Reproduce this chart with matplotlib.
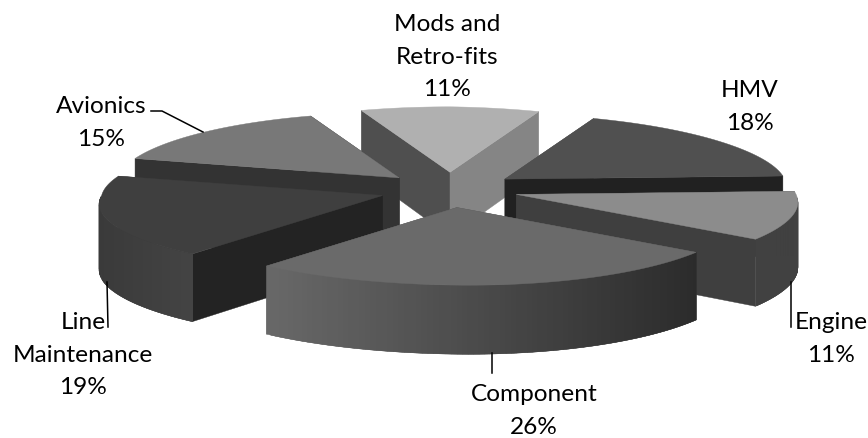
#!/usr/bin/env python3
"""
Exploded 3D pie of maintenance spend by category, drawn by hand with polygons
"""

import numpy as np
import matplotlib
matplotlib.use('Agg')
import matplotlib.pyplot as plt
from matplotlib.colors import to_rgb
from matplotlib.patches import Polygon

plt.rcParams['font.family'] = ['Lato', 'DejaVu Sans']

# Clockwise from the first slice
categories = ['HMV', 'Engine', 'Component', 'Line\nMaintenance', 'Avionics', 'Mods and\nRetro-fits']
shares = [18, 11, 26, 19, 15, 11]

top_colors = ['#505050', '#8c8c8c', '#6a6a6a', '#3f3f3f', '#787878', '#b0b0b0']
start_wall_colors = ['#505050', '#404040', '#555555', '#232323', '#333333', '#4f4f4f']
end_wall_colors = ['#212121', '#3f3f3f', '#555555', '#333333', '#333333', '#858585']
rim_left_colors = ['#404040', '#414141', '#686868', '#3a3a3a', '#444444', '#808080']
rim_right_colors = ['#303030', '#414141', '#2b2b2b', '#444444', '#444444', '#808080']

# Painter's order, back slices first
draw_order = [5, 4, 0, 3, 1, 2]

FIRST_ANGLE = 109.8 - 39.6   # clockwise start of the HMV slice, degrees
CX, CY = 450, 190
RX, RY = 278, 71
EXPLODE = 0.25
PERSPECTIVE_X = 0.065
PERSPECTIVE_Y = 0.085
LEAN = 11       # front-left quadrant bulges out a little
SHEAR = 4       # front slices sit slightly left
BULGE = 3       # extra width right at the sides
TILT = 3.5      # right side dips, front-left rises


def rim_point(apex, angle):
    """Screen position of a rim point on a slice whose tip sits at apex"""
    c, s = np.cos(np.radians(angle)), np.sin(np.radians(angle))
    x = RX * c / (1 + PERSPECTIVE_X * s) - LEAN * 2 * max(0, -s) * max(0, -c) + BULGE * c ** 9
    y = RY * s / (1 + PERSPECTIVE_Y * s)
    y -= TILT * c if c > 0 else TILT * c * max(0, -s)
    return apex[0] + x, apex[1] - y


def depth_at(y):
    """Wall height grows slightly towards the viewer"""
    return 65 + 3 * (y - CY) / RY


def drop(points):
    return [(x, y + depth_at(y)) for x, y in points]


def draw_slice(ax, a0, a1, top, wall0, wall1, rim_l, rim_r):
    mid = np.radians((a0 + a1) / 2)
    apex = (CX + RX * EXPLODE * np.cos(mid) + SHEAR * min(0, np.sin(mid)),
            CY - RY * EXPLODE * np.sin(mid))

    angles = np.linspace(a0, a1, 90)
    rim = [rim_point(apex, a) for a in angles]
    rim_low = drop(rim)
    apex_low = drop([apex])[0]

    # Radial cut faces, the one further back first
    walls = [(rim[0], rim_low[0], wall0), (rim[-1], rim_low[-1], wall1)]
    walls.sort(key=lambda w: w[0][1])
    for upper, lower, color in walls:
        ax.add_patch(Polygon([apex, upper, lower, apex_low], facecolor=color, edgecolor=color, linewidth=0.3))

    # Outer wall only where it faces the viewer, shaded left to right in overlapping strips
    front = [i for i, a in enumerate(angles) if np.sin(np.radians(a)) < 0]
    if front:
        xs = np.array([rim[i][0] for i in front])
        lo, hi = xs.min(), xs.max()
        left, right = np.array(to_rgb(rim_l)), np.array(to_rgb(rim_r))
        order = sorted(front, key=lambda i: rim[i][0])
        for j, i in enumerate(order):
            k = order[min(j + 2, len(order) - 1)]
            color = left + (right - left) * (rim[i][0] - lo) / (hi - lo)
            ax.add_patch(Polygon([rim[i], rim[k], rim_low[k], rim_low[i]],
                                 facecolor=color, edgecolor=color, linewidth=0.3))

    ax.add_patch(Polygon([apex] + rim, facecolor=top, edgecolor=top, linewidth=0.3))


def main():
    fig = plt.figure(figsize=(8.68, 4.38), dpi=100)
    ax = fig.add_axes([0, 0, 1, 1])
    ax.set_xlim(0, 868)
    ax.set_ylim(438, 0)
    ax.axis('off')

    # Slice boundaries run clockwise, so the angles fall
    spans = np.array(shares) / sum(shares) * 360
    ends = FIRST_ANGLE - np.cumsum(spans)
    starts = ends + spans

    for i in draw_order:
        draw_slice(ax, starts[i], ends[i], top_colors[i], start_wall_colors[i],
                   end_wall_colors[i], rim_left_colors[i], rim_right_colors[i])

    # Leader lines
    leaders = [
        ([151, 162, 203], [111, 111, 132]),
        ([107, 108], [282, 327]),
        ([791, 791], [282, 327]),
        ([492, 492], [353, 373]),
    ]
    for xs, ys in leaders:
        ax.plot(xs, ys, color='black', linewidth=1.1)

    # Data labels
    label_pos = [(750, 107), (831, 339), (534, 411), (83, 355), (101, 123), (447, 57)]
    for name, share, (x, y) in zip(categories, shares, label_pos):
        ax.text(x, y, f'{name}\n{share}%', ha='center', va='center', fontsize=17.6,
                color='black', linespacing=1.66, multialignment='center')

    fig.savefig('out.png', dpi=100, facecolor='white')


if __name__ == "__main__":
    main()
